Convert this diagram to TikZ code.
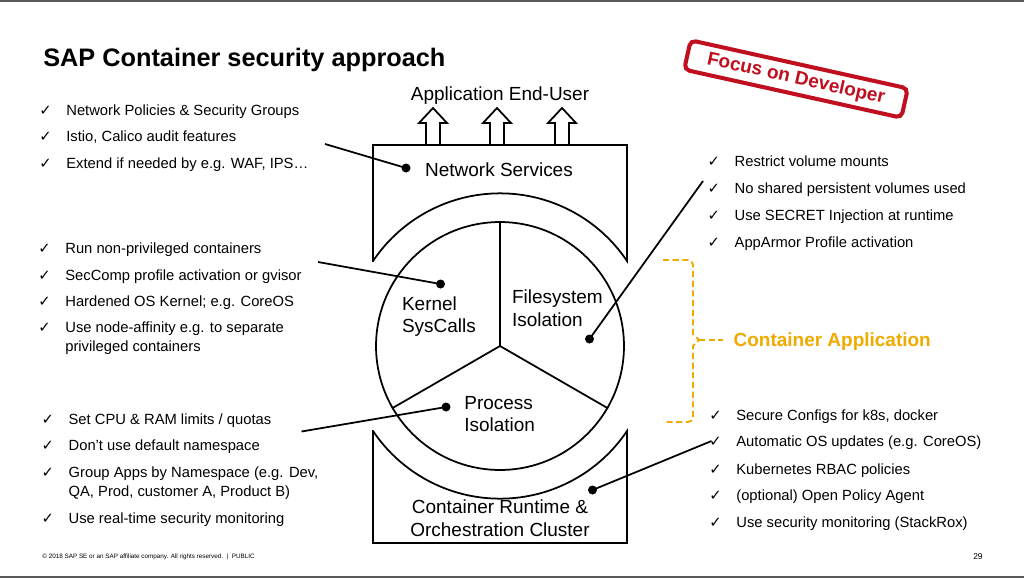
\documentclass[tikz,border=0pt]{standalone}
\usepackage{fontspec}
\setmainfont{Liberation Sans}
\newfontfamily\symfont{DejaVu Sans}
\usetikzlibrary{positioning}
\definecolor{sapgold}{RGB}{240,171,0}
\definecolor{stampred}{RGB}{192,16,32}
\definecolor{rulegray}{RGB}{90,90,90}
\tikzset{every node/.style={inner sep=0pt},
  item/.style={anchor=base west,font=\fontsize{8.4}{11}\selectfont},
  tick/.style={font=\symfont\fontsize{8.4}{9}\selectfont},
  lbl/.style={font=\fontsize{10.8}{12.9}\selectfont},
  box/.style={line width=1pt},lead/.style={line width=1pt},
  dot/.style={circle,fill,minimum size=.18cm},
  brace/.style={sapgold,line width=1.1pt,dash pattern=on 3.5pt off 2pt}}

\begin{document}
\begin{tikzpicture}[x=.02cm,y=-.02cm]
\fill[white] (0,0) rectangle (1024,578);\useasboundingbox (0,0) rectangle (1024,578);
\draw[rulegray,line width=1.2pt] (0,1)--(1024,1);\draw[rulegray,line width=1.2pt] (0,577)--(1024,577);
\node[anchor=base west,font=\fontsize{14.4}{17}\selectfont\bfseries] (title) at (43,66.7){SAP Container security approach};
\node[draw=stampred,text=stampred,line width=2.3pt,rounded corners=3pt,rotate=-12.5,minimum width=4.45cm,minimum height=.6cm,font=\fontsize{10.8}{13}\selectfont\bfseries] (focus) at (796,79){Focus on Developer};
\foreach \y/\t [count=\i] in {115/Network Policies \& Security Groups,141.5/{Istio, Calico audit features},168/{Extend if needed by e.g. WAF, IPS…}}
  {\node[item] (nw\i) at (66,\y){\t};\node[tick,base left=.28cm of nw\i] (tw\i){✓};}
\foreach \y/\t [count=\i] in {253.3/Run non-privileged containers,280/SecComp profile activation or gvisor,306/Hardened OS Kernel; e.g. CoreOS,332.7/Use node-affinity e.g. to separate}
  {\node[item] (nk\i) at (65,\y){\t};\node[tick,base left=.28cm of nk\i] (tk\i){✓};}
\node[item] (nk5) at (65,351.7){privileged containers};
\foreach \y/\t [count=\i] in {424/{Set CPU \& RAM limits / quotas},450.7/Don’t use default namespace,477.3/{Group Apps by Namespace (e.g. Dev,},523.3/Use real-time security monitoring}
  {\node[item] (np\i) at (68.3,\y){\t};\node[tick,base left=.28cm of np\i] (tp\i){✓};}
\node[item] (np5) at (68.3,496.7){QA, Prod, customer A, Product B)};
\foreach \y/\t [count=\i] in {166.7/Restrict volume mounts,193.3/No shared persistent volumes used,220.7/Use SECRET Injection at runtime,247.3/AppArmor Profile activation}
  {\node[item] (nf\i) at (734.3,\y){\t};\node[tick,base left=.28cm of nf\i] (tf\i){✓};}
\foreach \y/\t [count=\i] in {420/{Secure Configs for k8s, docker},446.7/Automatic OS updates (e.g. CoreOS),474/Kubernetes RBAC policies,500.7/(optional) Open Policy Agent,527.3/Use security monitoring (StackRox)}
  {\node[item] (nr\i) at (736,\y){\t};\node[tick,base left=.28cm of nr\i] (tr\i){✓};}
\draw[box] (373,261)--(373,145)--(627,145)--(627,261) arc[start angle=-33.9,end angle=-146.1,radius=153]--cycle;
\draw[box] (373,431)--(373,543)--(627,543)--(627,431) arc[start angle=33.9,end angle=146.1,radius=153]--cycle;
\foreach \x in {433,497,562} \draw[box] (\x-7,145)--(\x-7,123)--(\x-14,123)--(\x,108)--(\x+14,123)--(\x+7,123)--(\x+7,145);
\node[draw,circle,line width=1pt,minimum size=4.96cm] (core) at (500,346){};
\draw[box] (core.center)--(core.north);\draw[box] (core.center)--(core.-150);\draw[box] (core.center)--(core.-30);
\node[lbl,anchor=base] (appuser) at (500,100.7){Application End-User};
\node[lbl,anchor=base] (netsvc) at (499,176.7){Network Services};
\node[lbl,anchor=base west,align=left] (kernel) at (401.7,332.7){Kernel\\SysCalls};
\node[lbl,anchor=base west,align=left] (fsiso) at (511.7,326){Filesystem\\Isolation};
\node[lbl,anchor=base west,align=left] (prociso) at (464,431.7){Process\\Isolation};
\node[lbl,anchor=base,align=center] (runtime) at (500,536){Container Runtime \&\\Orchestration Cluster};
\node[dot] (dnet) at (406,168){};\coordinate (lnet) at (325,144);\draw[lead] (lnet)--(dnet.center);
\node[dot] (dkern) at (440.5,284){};\coordinate (lkern) at (318,262);\draw[lead] (lkern)--(dkern.center);
\node[dot] (dfs) at (589.5,339){};\coordinate (lfs) at (703,181);\draw[lead] (lfs)--(dfs.center);
\node[dot] (dproc) at (446,407){};\coordinate (lproc) at (301.5,431.5);\draw[lead] (lproc)--(dproc.center);
\node[dot] (drun) at (592.5,490){};\coordinate (lrun) at (711.5,441);\draw[lead] (lrun)--(drun.center);
\node[anchor=base west,text=sapgold,font=\fontsize{10.8}{13}\selectfont\bfseries] (contapp) at (733.3,346.7){Container Application};
\coordinate (btip) at (699,340);\coordinate (bend) at (723,340);
\draw[brace] (663,260)--(688,260) arc[start angle=-90,end angle=0,radius=5]--(693,334)--(btip)--(693,346)--(693,417) arc[start angle=0,end angle=90,radius=5]--(663,422);
\draw[brace] (btip)--(bend);
\node[anchor=base west,font=\fontsize{3.6}{4}\selectfont] (foot) at (42,558){© 2018 SAP SE or an SAP affiliate company. All rights reserved.\ \ |\ \ PUBLIC};
\node[anchor=base east,font=\fontsize{4.8}{5}\selectfont] (pageno) at (983,559){29};
\end{tikzpicture}
\end{document}
